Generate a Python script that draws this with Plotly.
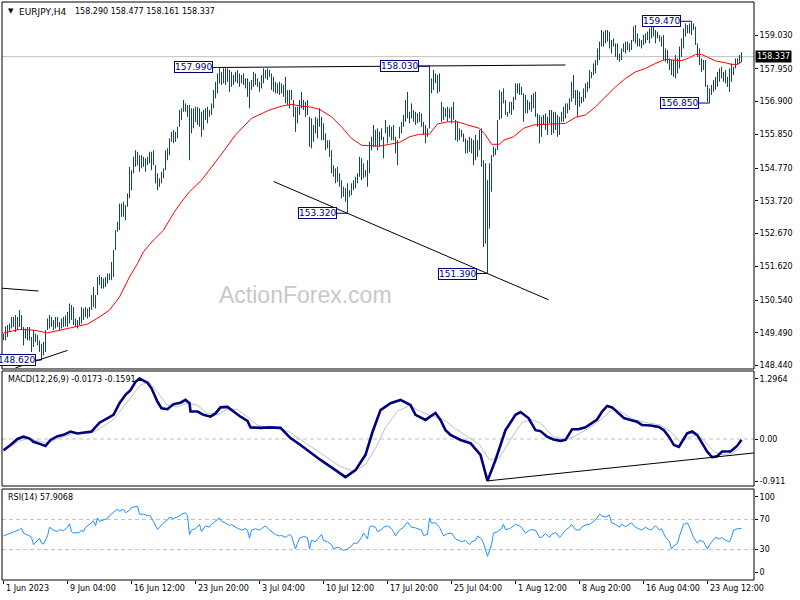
import plotly.graph_objects as go

# ---------------- data ----------------
SYMBOL = "EURJPY,H4"
LAST_OHLC = [158.290, 158.477, 158.161, 158.337]
MACD_LAST = [-0.0173, -0.1591]
RSI_LAST = 57.9068

date_label_bars = [0, 32, 64, 96, 128, 160, 192, 224, 256, 288, 320, 352]
date_labels = ["1 Jun 2023", "9 Jun 04:00", "16 Jun 12:00", "23 Jun 20:00", "3 Jul 04:00",
               "10 Jul 12:00", "17 Jul 20:00", "25 Jul 04:00", "1 Aug 12:00", "8 Aug 20:00",
               "16 Aug 04:00", "23 Aug 12:00"]

price_ticks = [159.030, 157.950, 156.900, 155.850, 154.770, 153.720, 152.670, 151.620, 150.540, 149.490, 148.440]
macd_ticks = [1.2964, 0.0, -0.911]
macd_tick_text = ["1.2964", "0.00", "-0.911"]
rsi_ticks = [100, 70, 30, 0]
rsi_levels = [70, 30]

highs = [
 149.47,149.70,149.74,149.79,150.00,150.00,150.06,150.00,150.22,150.06,
 149.68,149.63,149.68,149.68,149.36,149.58,149.47,149.42,149.25,149.14,
 149.20,149.58,149.95,150.06,150.00,149.90,150.00,150.00,149.84,149.95,
 150.00,150.05,150.16,150.43,150.38,150.32,149.95,149.90,150.00,150.32,
 150.27,150.32,150.27,150.32,150.70,150.96,150.70,151.28,151.34,151.28,
 151.23,151.28,151.39,151.39,151.76,152.14,152.78,153.05,153.63,153.63,
 153.69,153.58,153.96,154.81,154.70,155.13,155.34,155.29,155.18,155.18,
 155.13,155.08,155.13,155.29,155.29,155.34,154.86,154.60,154.44,154.65,
 154.76,155.34,155.40,155.72,155.93,155.99,155.93,156.09,156.63,156.68,
 156.95,156.84,156.79,156.79,
 156.68,156.68,156.73,156.73,156.68,156.57,156.63,156.68,156.73,156.63,
 156.84,157.27,157.53,157.80,157.99,157.85,157.96,157.96,157.96,157.91,
 157.85,157.75,157.85,157.91,157.80,157.75,157.80,157.64,157.64,157.53,
 157.59,157.85,157.80,157.64,157.53,157.75,157.96,157.91,157.96,157.91,
 157.80,157.69,157.53,157.48,157.53,157.48,157.43,157.69,157.27,157.27,
 157.27,156.95,156.73,156.73,156.95,157.21,156.95,156.89,156.95,156.41,
 156.36,156.15,156.41,156.36,156.68,156.41,156.20,155.88,155.66,155.66,
 155.34,154.86,154.76,154.81,154.60,154.38,154.17,154.12,154.28,154.06,
 154.28,154.38,154.49,154.60,155.13,155.08,154.92,154.70,155.02,155.61,
 155.77,156.15,
 155.99,156.04,155.93,156.04,155.77,156.31,156.09,156.15,156.09,156.15,
 155.77,155.66,156.09,156.25,156.47,156.95,157.21,156.57,156.84,156.63,
 156.57,156.52,156.57,156.52,156.25,156.15,156.04,158.03,157.64,157.91,
 157.80,157.75,157.80,156.89,156.73,156.68,156.73,156.68,156.73,156.89,
 156.31,156.25,156.04,155.99,155.88,155.72,155.66,155.77,155.72,155.66,
 155.83,155.66,155.99,156.04,155.02,154.92,154.38,154.92,155.18,155.45,
 155.40,156.31,157.27,157.21,157.32,156.95,156.57,156.89,156.89,157.05,
 157.48,157.48,157.48,157.37,157.16,157.11,156.95,156.89,157.11,157.16,
 157.21,156.52,156.47,156.41,156.47,156.52,156.41,156.63,156.63,156.57,
 156.57,156.47,156.41,
 156.57,156.73,156.84,156.84,157.00,157.53,157.75,157.27,157.27,157.21,
 157.05,157.32,157.48,157.53,157.91,157.85,158.12,158.23,158.60,158.82,
 159.19,159.14,159.19,159.19,159.14,158.87,158.92,158.76,158.76,158.44,
 158.60,158.76,158.82,158.82,158.76,158.87,159.30,159.35,159.08,158.92,
 158.87,159.03,159.08,159.14,159.24,159.30,159.35,159.19,159.14,159.03,
 158.98,159.03,158.60,158.55,158.28,158.23,158.23,158.39,158.28,158.66,
 158.92,159.24,159.40,159.35,159.40,159.47,159.40,159.30,158.76,158.60,
 158.28,158.23,158.23,157.43,157.32,157.43,157.59,157.69,157.85,157.96,
 158.01,157.85,157.91,157.69,157.96,158.12,158.01,158.28,158.28,158.39,
 158.477]

lows = [
 149.25,149.25,149.36,149.52,149.63,149.68,149.52,149.58,149.68,149.58,
 149.09,149.31,149.25,149.25,148.88,149.04,149.20,149.09,148.88,148.62,
 148.77,148.88,149.58,149.63,149.68,149.58,149.63,149.68,149.58,149.63,
 149.68,149.70,149.68,149.79,149.90,149.74,149.68,149.63,149.74,149.79,
 149.90,150.00,149.95,150.00,150.22,150.32,150.27,150.70,151.02,150.91,
 150.91,150.96,151.07,151.18,151.18,151.28,152.14,152.73,152.78,153.21,
 153.21,153.10,153.53,153.80,154.06,154.60,154.81,154.86,154.65,154.76,
 154.81,154.65,154.86,154.92,154.70,154.86,154.28,154.06,154.17,154.28,
 154.44,154.70,155.02,155.18,155.61,155.56,155.61,155.72,156.09,156.31,
 156.57,156.57,156.41,155.02,
 155.88,156.04,156.25,156.15,156.09,155.77,155.99,156.31,156.20,156.41,
 156.47,156.68,157.00,157.16,157.48,157.43,157.48,157.43,157.53,157.21,
 157.37,157.43,157.53,157.48,157.37,157.48,157.43,157.32,157.05,156.68,
 157.27,157.37,157.43,157.37,157.21,157.32,157.48,157.64,157.59,157.69,
 157.27,157.21,157.16,157.16,157.11,157.16,157.05,156.84,156.79,156.68,
 156.95,156.41,155.93,156.20,156.47,156.68,156.63,156.41,156.47,155.45,
 155.40,155.61,155.88,155.72,156.09,155.66,155.66,155.34,155.40,155.13,
 154.60,154.49,154.28,154.33,154.17,153.80,153.85,153.69,153.32,153.85,
 153.90,154.06,154.12,154.28,154.49,154.38,154.44,154.49,154.17,154.60,
 155.34,155.45,
 155.45,155.34,155.45,155.66,155.08,155.88,155.56,155.77,155.66,155.66,
 155.24,154.86,155.72,155.88,156.09,156.25,156.36,156.20,156.36,156.25,
 156.15,156.20,156.25,156.09,155.83,155.56,155.77,156.04,157.16,157.27,
 157.48,157.16,157.21,156.25,156.31,156.41,156.25,156.36,156.20,156.31,
 155.66,155.61,155.66,155.77,155.61,155.24,155.24,155.29,155.24,154.86,
 155.02,155.13,155.34,154.81,152.24,152.35,151.39,152.83,154.01,155.13,
 155.18,155.34,156.31,156.36,156.84,156.47,156.41,156.52,156.47,156.63,
 156.95,157.16,157.11,157.11,156.25,156.52,156.52,156.63,156.57,156.68,
 156.41,156.09,155.56,155.77,156.15,155.99,155.83,156.20,155.83,155.88,
 155.99,155.77,155.83,
 156.25,156.25,156.36,156.52,156.63,156.89,157.00,156.79,156.41,156.73,
 156.84,156.89,157.00,157.21,157.32,157.64,157.75,157.80,158.07,158.23,
 158.66,158.66,158.76,158.82,158.60,158.44,158.66,158.33,158.23,158.17,
 158.23,158.49,158.44,158.55,158.49,158.55,158.82,158.76,158.66,158.66,
 158.60,158.71,158.76,158.87,158.76,158.92,158.98,158.76,158.92,158.82,
 158.66,158.23,158.17,158.12,157.91,157.75,157.69,157.64,157.80,157.96,
 158.33,158.60,158.98,159.08,159.08,159.03,159.19,158.71,158.33,158.07,
 157.85,157.91,157.37,156.89,156.85,157.11,157.21,157.27,157.37,157.53,
 157.64,157.53,157.48,157.37,157.21,157.53,157.75,157.96,158.07,158.12,
 158.161]

ma_bars = [0,8,15,22,32,42,48,53,58,63,67,70,75,80,85,89,93,99,108,116,124,133,139,144,149,153,158,
           164,169,174,179,184,188,193,198,203,208,213,217,222,227,232,238,241,244,248,250,255,260,
           265,272,278,281,286,291,296,301,306,311,316,321,326,331,336,339,343,346,349,353,356,361,
           364,367,369]
ma_vals = [149.49,149.60,149.58,149.49,149.63,149.77,150.00,150.22,150.64,151.28,151.71,152.09,152.46,
           152.78,153.32,153.69,154.01,154.38,155.13,155.83,156.36,156.63,156.75,156.81,156.75,156.73,
           156.65,156.41,156.09,155.72,155.50,155.47,155.47,155.53,155.59,155.77,155.85,155.86,156.18,
           156.25,156.25,156.15,156.04,155.83,155.53,155.53,155.66,155.77,156.04,156.15,156.17,156.17,
           156.20,156.39,156.47,156.73,157.05,157.37,157.64,157.85,157.96,158.12,158.25,158.23,158.21,
           158.30,158.41,158.41,158.28,158.20,158.14,158.09,158.09,158.17]

macd_bars = [0,3.5,7,10,13,15,18.5,21,23.5,27,30,33.5,37,42,44,48,52,55,58,61,63.5,66,68,69,72,74,77,79,
             82,85,88.5,91,93,93.5,97,100,103.5,106,108.5,112,115,118.5,122,123.5,128.5,133,138.5,143.5,
             148.5,158.5,166,171,176,181,184.5,188.5,193.5,198.5,203.5,206,211,216,218.5,221,223.5,
             228.5,233.5,238.5,242,246,251,256,258.5,262.5,266,268.5,271.8,275,278.5,281,284.3,287.5,
             291,294.3,296.8,299.3,301.8,304.3,306.8,310.2,313.5,316.8,319.3,323.5,327.7,330.2,332.7,
             335.2,337.7,339.3,341.8,344.3,346.8,349.3,351.8,354.3,356.8,359.3,363.5,366.8,369]
macd_vals = [-0.24,-0.13,0.00,0.05,0.01,-0.06,-0.11,-0.15,-0.02,0.06,0.09,0.16,0.12,0.14,0.16,0.35,0.44,
             0.52,0.77,0.95,1.05,1.23,1.30,1.28,1.21,1.09,0.80,0.66,0.64,0.75,0.78,0.84,0.77,0.59,0.59,
             0.52,0.48,0.55,0.68,0.69,0.59,0.48,0.39,0.25,0.24,0.25,0.24,0.02,-0.13,-0.45,-0.67,-0.82,
             -0.67,-0.34,0.15,0.62,0.77,0.84,0.73,0.52,0.41,0.56,0.41,0.19,0.09,-0.02,-0.09,-0.34,-0.90,
             -0.45,0.19,0.52,0.58,0.45,0.19,0.17,0.05,-0.01,-0.04,-0.02,0.21,0.21,0.25,0.34,0.42,0.59,
             0.71,0.68,0.59,0.45,0.41,0.37,0.30,0.29,0.26,0.19,0.05,-0.13,-0.17,-0.06,0.12,0.16,0.09,
             -0.09,-0.27,-0.39,-0.37,-0.27,-0.27,-0.15,-0.0173]

signal_bars = [0,7,12,18.5,22,27,35,43.5,48.5,55,62,68.5,72.7,76.8,81.8,86.8,91.8,96.8,101.8,106.8,
               111.8,116.8,121.8,126.8,132.7,138,143,150,160,168,175,181,186,191,197,203,209,215,220,
               226,232,238,243,248,253,259,264,268.5,275,281,285,291.8,298.5,305,310,315,321.8,328.5,
               333.5,338.5,343.5,346.8,351,355,360,364.3,369]
signal_vals = [-0.27,-0.06,0.01,-0.06,-0.09,0.01,0.12,0.12,0.23,0.42,0.80,1.16,1.23,1.02,0.73,0.69,0.77,
               0.73,0.55,0.52,0.64,0.64,0.48,0.30,0.23,0.22,0.15,-0.05,-0.35,-0.58,-0.70,-0.55,-0.20,
               0.25,0.60,0.72,0.58,0.48,0.42,0.22,0.05,-0.12,-0.45,-0.40,-0.05,0.35,0.42,0.34,0.05,
               -0.01,0.05,0.21,0.41,0.66,0.55,0.42,0.35,0.30,0.16,-0.06,0.05,0.09,-0.06,-0.27,-0.34,
               -0.31,-0.1591]

rsi_bars = [0,3,4,6,8,9,10,13,14,15,17,18,19,20,22,23,25,27,28,30,32,33,34,35,38,39,40,41,43,45,46,47,
            48,50,52,53,55,57,58,60,61,63,64,66,67,68,70,72,73,75,77,78,80,82,83,85,87,89,91,92,93,94,
            96,98,99,101,103,104,106,108,109,111,113,114,116,118,119,121,122,123,124,126,128,129,131,
            133,134,136,138,139,141,143,144,146,147,148,150,152,153,154,156,158,159,160,162,164,165,
            167,168,170,172,174,175,177,179,180,182,183,184,186,187,189,190,192,194,195,196,198,200,
            202,204,206,209,210,212,213,214,216,218,219,220,222,224,226,228,229,231,233,234,236,237,
            239,240,241,242,244,245,247,249,250,251,253,254,256,258,259,261,263,264,266,268,269,271,
            273,274,276,278,279,281,283,284,286,288,289,291,293,294,296,298,299,301,303,304,306,308,
            309,311,313,314,316,318,319,321,323,324,326,328,329,331,333,334,335,337,338,340,342,343,
            345,347,348,350,352,353,355,356,358,359,361,363,364,365,367,369]
rsi_vals = [48.1,51.2,52.7,55.0,56.5,58.5,51.9,48.1,46.2,36.5,42.3,45.0,38.5,37.3,48.1,59.6,55.8,53.8,
            56.5,55.0,59.6,64.2,53.8,51.9,52.7,55.8,53.8,59.6,63.5,68.1,61.5,71.9,67.3,69.2,71.2,75.0,
            79.6,83.8,80.8,83.5,78.8,81.9,85.8,87.3,87.3,76.9,76.9,75.0,75.8,67.3,56.5,59.6,65.4,69.2,
            73.1,71.2,73.1,76.9,78.8,75.0,50.0,55.8,57.7,63.5,53.8,61.5,59.6,63.5,68.1,71.9,67.3,65.4,
            61.5,63.5,59.6,57.7,55.8,57.7,55.8,45.0,55.8,57.7,55.8,57.7,61.5,55.8,53.8,50.0,48.1,48.8,
            46.2,50.0,48.1,30.8,38.5,45.0,47.3,46.2,30.8,42.3,40.4,46.2,50.0,42.3,40.4,36.5,31.5,32.7,
            32.7,28.8,30.8,34.6,38.5,38.5,46.2,51.9,44.2,59.6,61.5,59.6,53.8,56.5,59.6,61.5,57.7,53.8,
            48.1,55.8,59.6,66.5,59.6,58.8,55.8,48.8,50.0,71.9,65.4,65.4,59.6,53.8,48.1,51.2,51.9,44.2,
            42.3,40.4,42.3,36.5,40.4,42.3,48.1,44.2,38.5,30.8,21.2,36.5,51.9,53.8,57.7,63.5,56.5,57.7,
            59.6,63.5,61.5,59.6,51.9,55.8,56.5,55.8,46.2,46.2,51.2,46.2,50.0,52.7,46.2,48.8,55.8,59.6,
            63.5,56.5,55.8,59.6,62.7,63.5,65.4,69.2,76.9,75.0,73.1,75.8,65.4,63.5,59.6,63.5,60.4,63.5,
            65.4,59.6,56.5,55.8,59.6,56.5,56.5,61.5,55.8,57.7,46.2,40.4,30.8,34.6,38.5,48.1,63.5,65.4,
            59.6,46.2,38.5,42.3,40.4,30.8,36.5,42.3,46.2,44.2,46.2,42.3,40.4,46.2,55.8,57.7,57.9068]

# marked swing points (bar index, price)
swing_bars = [107, 213, 344, 353, 172, 242, 19]
swing_prices = [157.990, 158.030, 159.470, 156.850, 153.320, 151.390, 148.620]

# hand-drawn trend lines (bar index pairs, value pairs)
resistance_bars, resistance_vals = [107, 281], [157.99, 158.07]
support_bars, support_vals = [135, 272.5], [154.34, 150.55]
old_line_bars, old_line_vals = [-0.75, 17.5], [150.92, 150.83]
low_line_bars, low_line_vals = [6, 32], [148.37, 148.93]
macd_tl_bars, macd_tl_vals = [242, 375.25], [-0.90, -0.30]

assert len(highs) == len(lows) == 370, (len(highs), len(lows))
assert len(ma_bars) == len(ma_vals)
assert len(macd_bars) == len(macd_vals), (len(macd_bars), len(macd_vals))
assert len(signal_bars) == len(signal_vals), (len(signal_bars), len(signal_vals))
assert len(rsi_bars) == len(rsi_vals), (len(rsi_bars), len(rsi_vals))

# ---------------- styling ----------------
FONT = "DejaVu Sans"
BAR_COLOR = "#16455f"
NAVY = "#000080"
GRAY = "#c0c0c0"

MAIN_DOM = [0.3651, 1.0]
MACD_DOM = [0.1626, 0.3616]
RSI_DOM = [0.0, 0.1574]

fig = go.Figure()

# price bars (high-low lines)
bx, by = [], []
for i, (h, l) in enumerate(zip(highs, lows)):
    bx += [i, i, None]
    by += [l, h, None]
fig.add_trace(go.Scatter(x=bx, y=by, mode="lines", line=dict(color=BAR_COLOR, width=1),
                         hoverinfo="skip", showlegend=False, xaxis="x", yaxis="y"))

# moving average
fig.add_trace(go.Scatter(x=ma_bars, y=ma_vals, mode="lines", line=dict(color="#ff0000", width=1),
                         showlegend=False, xaxis="x", yaxis="y"))

# trend lines on price
for tb, tv in [(resistance_bars, resistance_vals), (support_bars, support_vals),
               (old_line_bars, old_line_vals), (low_line_bars, low_line_vals)]:
    fig.add_trace(go.Scatter(x=tb, y=tv, mode="lines", line=dict(color="black", width=1),
                             showlegend=False, xaxis="x", yaxis="y"))

annotations = []

# swing label connectors + boxes
label_shift_px = [-5, -11, -11, -11, -11, -11, -6]
cx, cy = [], []
for b, p, s in zip(swing_bars, swing_prices, label_shift_px):
    cx += [b + s / 2.0, b, None]
    cy += [p, p, None]
    annotations.append(dict(x=b, y=p, xref="x", yref="y", text=f"{p:.3f}", showarrow=False,
                            xanchor="right", yanchor="middle", xshift=s,
                            font=dict(family=FONT, size=9, color=NAVY),
                            bgcolor="white", bordercolor=NAVY, borderwidth=1, borderpad=0))
fig.add_trace(go.Scatter(x=cx, y=cy, mode="lines", line=dict(color=NAVY, width=1),
                         showlegend=False, xaxis="x", yaxis="y"))

# MACD
fig.add_trace(go.Scatter(x=signal_bars, y=signal_vals, mode="lines", line=dict(color=GRAY, width=1),
                         showlegend=False, xaxis="x", yaxis="y2"))
fig.add_trace(go.Scatter(x=macd_bars, y=macd_vals, mode="lines", line=dict(color=NAVY, width=2.6),
                         showlegend=False, xaxis="x", yaxis="y2"))
fig.add_trace(go.Scatter(x=macd_tl_bars, y=macd_tl_vals, mode="lines", line=dict(color="black", width=1),
                         showlegend=False, xaxis="x", yaxis="y2"))

# RSI
fig.add_trace(go.Scatter(x=rsi_bars, y=rsi_vals, mode="lines", line=dict(color="#1e90ff", width=1),
                         showlegend=False, xaxis="x", yaxis="y3"))

shapes = []
shapes.append(dict(type="line", xref="paper", x0=0, x1=1, yref="y", y0=LAST_OHLC[3], y1=LAST_OHLC[3],
                   line=dict(color=GRAY, width=1), layer="below"))
shapes.append(dict(type="line", xref="paper", x0=0, x1=1, yref="y2", y0=0, y1=0,
                   line=dict(color=GRAY, width=1, dash="4px,3px"), layer="below"))
for lv in rsi_levels:
    shapes.append(dict(type="line", xref="paper", x0=0, x1=1, yref="y3", y0=lv, y1=lv,
                       line=dict(color=GRAY, width=1, dash="4px,3px"), layer="below"))
for dom in (MAIN_DOM, MACD_DOM, RSI_DOM):
    shapes.append(dict(type="rect", xref="paper", yref="paper", x0=0, x1=1, y0=dom[0], y1=dom[1],
                       line=dict(color="black", width=1), fillcolor="rgba(0,0,0,0)"))

title_font = dict(family=FONT, size=8, color="black")
annotations.append(dict(xref="paper", yref="paper", x=0, y=1, xshift=4, yshift=-3, xanchor="left",
                        yanchor="top", showarrow=False, text="▼", font=dict(family=FONT, size=7, color="black")))
annotations.append(dict(xref="paper", yref="paper", x=0, y=1, xshift=15, yshift=-3, xanchor="left",
                        yanchor="top", showarrow=False, text=SYMBOL,
                        font=dict(family=FONT, size=9, color="black")))
annotations.append(dict(xref="paper", yref="paper", x=0, y=1, xshift=71, yshift=-3, xanchor="left",
                        yanchor="top", showarrow=False,
                        text=" ".join(f"{v:.3f}" for v in LAST_OHLC), font=title_font))
annotations.append(dict(xref="paper", yref="paper", x=0, y=MACD_DOM[1], xshift=4, yshift=-2,
                        xanchor="left", yanchor="top", showarrow=False,
                        text=f"MACD(12,26,9) {MACD_LAST[0]:.4f} {MACD_LAST[1]:.4f}", font=title_font))
annotations.append(dict(xref="paper", yref="paper", x=0, y=RSI_DOM[1], xshift=4, yshift=-2,
                        xanchor="left", yanchor="top", showarrow=False,
                        text=f"RSI(14) {RSI_LAST:.4f}", font=title_font))
annotations.append(dict(xref="paper", yref="paper", x=0.403, y=0.493, showarrow=False,
                        text="ActionForex.com",
                        font=dict(family="Liberation Sans", size=23, color="#c8c8c8")))
annotations.append(dict(xref="paper", yref="y", x=1, y=LAST_OHLC[3], xanchor="left", yanchor="middle",
                        xshift=1, showarrow=False, text=f"{LAST_OHLC[3]:.3f}", bgcolor="black",
                        borderpad=1, font=dict(family=FONT, size=8, color="white")))
for b, t in zip(date_label_bars, date_labels):
    annotations.append(dict(xref="x", yref="paper", x=b, y=0, yshift=-2, xanchor="left",
                            yanchor="top", showarrow=False, text=t, font=title_font))

axis_common = dict(showgrid=False, zeroline=False, showline=False, ticks="outside", ticklen=3,
                   tickcolor="black", tickfont=dict(family=FONT, size=8, color="black"))

fig.update_layout(
    width=800, height=600, autosize=False,
    margin=dict(l=2, r=46, t=2, b=20, pad=0),
    paper_bgcolor="white", plot_bgcolor="white",
    showlegend=False,
    xaxis=dict(domain=[0, 1], range=[-0.75, 375.25], anchor="y3", tickvals=date_label_bars,
               showticklabels=False, **axis_common),
    yaxis=dict(domain=MAIN_DOM, range=[148.334, 160.087], side="right", anchor="x",
               tickvals=price_ticks, ticktext=[f"{v:.3f}" for v in price_ticks], **axis_common),
    yaxis2=dict(domain=MACD_DOM, range=[-1.0105, 1.462], side="right", anchor="x",
                tickvals=macd_ticks, ticktext=macd_tick_text, **axis_common),
    yaxis3=dict(domain=RSI_DOM, range=[-10.2, 110.2], side="right", anchor="x",
                tickvals=rsi_ticks, ticktext=[str(v) for v in rsi_ticks], **axis_common),
    shapes=shapes,
    annotations=annotations,
)

fig.write_html("out.html", config={"displayModeBar": False},
               post_script="document.body.style.margin='0px';document.body.style.padding='0px';")
